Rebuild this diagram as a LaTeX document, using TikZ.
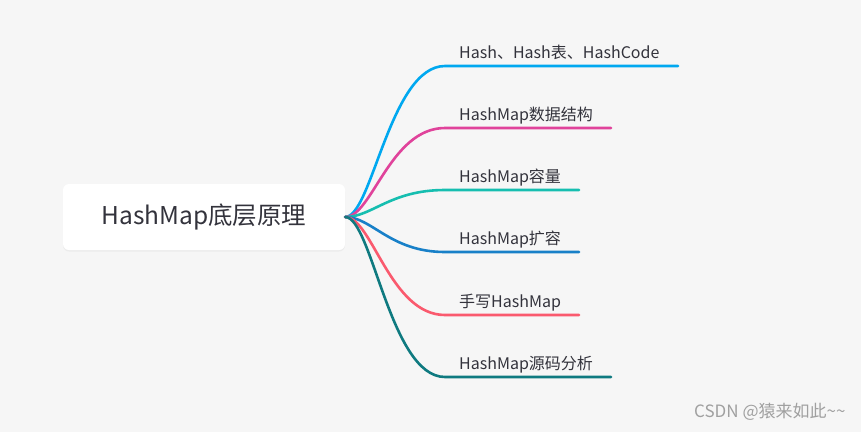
\documentclass[tikz,border=0pt]{standalone}
\usepackage{fontspec}
\setmainfont{Noto Sans CJK SC}
\usetikzlibrary{shadows}
\definecolor{paper}{RGB}{246,246,246}
\definecolor{ink}{RGB}{51,51,60}
\definecolor{sky}{RGB}{0,168,240}
\definecolor{rose}{RGB}{224,67,155}
\definecolor{mint}{RGB}{22,190,176}
\definecolor{ocean}{RGB}{24,128,200}
\definecolor{coral}{RGB}{250,90,110}
\definecolor{pine}{RGB}{15,122,128}
\definecolor{wmgray}{RGB}{160,160,160}
\tikzset{
  rootbox/.style={fill=white,rounded corners=6pt,minimum width=282pt,
    minimum height=66pt,text=ink,font=\fontsize{24.5}{28}\selectfont,
    drop shadow={opacity=0.08,shadow xshift=0pt,shadow yshift=-1.5pt}},
  branch/.style={line width=2.6pt,draw=#1,line cap=round},
  branch/.default=sky,
  leaf/.style={inner sep=0pt,text=ink,font=\fontsize{16}{19}\selectfont},
  tag/.style={text=wmgray,font=\fontsize{17}{20}\selectfont},
}
\begin{document}
\begin{tikzpicture}[x=1pt,y=-1pt]
  \useasboundingbox (0,0) rectangle (861,432);
  \fill[paper] (0,0) rectangle (861,432);
  \node[rootbox] (root) at (204,217) {HashMap底层原理};
  % branches
  \foreach \n/\col/\y/\xe/\txt in {hc/sky/66/678/{Hash、Hash表、HashCode},
      ds/rose/128/611/{HashMap数据结构},
      cap/mint/190/579/{HashMap容量},
      grow/ocean/252/579/{HashMap扩容},
      hand/coral/315/579/{手写HashMap},
      src/pine/377/611/{HashMap源码分析}}{
    \coordinate (\n-a) at (445,\y);
    \coordinate (\n-b) at (\xe,\y);
    \draw[branch=\col] (root.east) .. controls (372,217) and (390,\y) .. (\n-a) -- (\n-b);
    \node[leaf,anchor=base west] (\n) at (459,\y-8) {\txt};
  }
  \node[tag,anchor=east] (csdn) at (849,412) {CSDN @猿来如此\textasciitilde\textasciitilde};
\end{tikzpicture}
\end{document}
